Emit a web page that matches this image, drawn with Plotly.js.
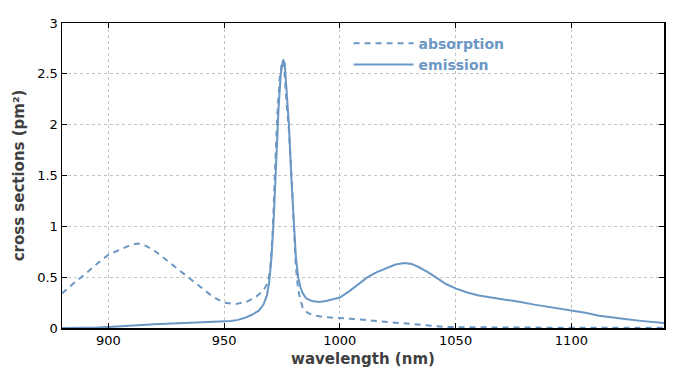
<!DOCTYPE html>
<html>
<head>
<meta charset="utf-8">
<script src="https://cdn.plot.ly/plotly-3.0.1.min.js"></script>
<style>html,body{margin:0;padding:0;background:#fff;}#chart{width:700px;height:375px;}</style>
</head>
<body>
<div id="chart"></div>
<script>
// Wavelength (nm) and cross sections (pm^2)
const absWavelength = [880,885,890,895,900,905,910,913,916,920,925,930,935,940,945,950,955,960,964,967,969,970,971,972,973,974,975,975.5,976,977,978,979,980,981,982,983,984,986,988,991,995,1000,1005,1010,1015,1020,1025,1030,1035,1040,1045,1050,1060,1080,1100,1140];
const absorption = [0.34,0.44,0.53,0.63,0.72,0.77,0.82,0.83,0.81,0.76,0.67,0.58,0.49,0.40,0.31,0.25,0.235,0.26,0.31,0.37,0.45,0.6,0.95,1.55,2.1,2.45,2.62,2.63,2.55,2.2,1.95,1.55,1.0,0.6,0.38,0.27,0.2,0.15,0.13,0.115,0.105,0.1,0.09,0.08,0.07,0.055,0.045,0.035,0.025,0.018,0.012,0.008,0.005,0.004,0.003,0.003];

const emWavelength = [880,890,895,900,905,910,915,920,925,930,935,940,945,950,953,956,959,962,965,967,968.5,969.5,970.5,971.5,972.5,973.5,974.5,975.5,976.2,977,978,979,980,981,982,983,984,985.5,988,991,994,997,1000,1004,1008,1012,1016,1020,1024,1028,1031,1034,1038,1042,1046,1050,1055,1060,1066,1072,1078,1084,1090,1096,1100,1106,1112,1118,1124,1130,1135,1140];
const emission = [0,0,0.005,0.01,0.015,0.022,0.03,0.037,0.043,0.048,0.052,0.055,0.06,0.065,0.07,0.08,0.1,0.13,0.17,0.23,0.32,0.45,0.7,1.1,1.65,2.15,2.5,2.64,2.6,2.35,2.0,1.5,1.05,0.7,0.5,0.4,0.34,0.29,0.265,0.255,0.265,0.28,0.3,0.36,0.43,0.5,0.55,0.59,0.625,0.64,0.63,0.6,0.55,0.49,0.43,0.39,0.35,0.32,0.3,0.28,0.255,0.23,0.21,0.19,0.175,0.15,0.12,0.1,0.085,0.07,0.06,0.05];

const xTicks = [900,950,1000,1050,1100];
const yTicks = [0,0.5,1,1.5,2,2.5,3];
const yTickText = ['0','0.5','1','1.5','2','2.5','3'];

const lineColor = '#6b97c4';

const traces = [
  {x: absWavelength, y: absorption, name: 'absorption', mode: 'lines',
   line: {color: lineColor, width: 2, dash: '6px,5px'}},
  {x: emWavelength, y: emission, name: 'emission', mode: 'lines',
   line: {color: lineColor, width: 2}}
];

const axisCommon = {
  showline: true, linecolor: '#000', linewidth: 1.5, mirror: 'ticks',
  ticks: 'inside', ticklen: 5, tickcolor: '#000',
  showgrid: true, gridcolor: '#c4c4c4', griddash: '3px,3px', gridwidth: 1,
  zeroline: false,
  tickfont: {family: 'DejaVu Sans', size: 13, color: '#000'}
};

const layout = {
  width: 700, height: 375,
  margin: {l: 62, r: 36, t: 23, b: 47},
  paper_bgcolor: '#fff', plot_bgcolor: '#fff',
  showlegend: true,
  legend: {x: 0.476, y: 0.985, xanchor: 'left', yanchor: 'top', bgcolor: 'rgba(0,0,0,0)',
           font: {family: 'DejaVu Sans', size: 14, color: lineColor, weight: 'bold'},
           tracegroupgap: 0, itemwidth: 60},
  xaxis: Object.assign({}, axisCommon, {
    range: [880, 1140], tickvals: xTicks,
    title: {text: 'wavelength (nm)', standoff: 6,
            font: {family: 'DejaVu Sans', size: 15, color: '#404040', weight: 'bold'}}
  }),
  yaxis: Object.assign({}, axisCommon, {
    range: [0, 3], tickvals: yTicks, ticktext: yTickText,
    title: {text: 'cross sections (pm²)', standoff: 9,
            font: {family: 'DejaVu Sans', size: 15, color: '#404040', weight: 'bold'}}
  })
};

Plotly.newPlot('chart', traces, layout, {displayModeBar: false, staticPlot: true});
</script>
</body>
</html>
